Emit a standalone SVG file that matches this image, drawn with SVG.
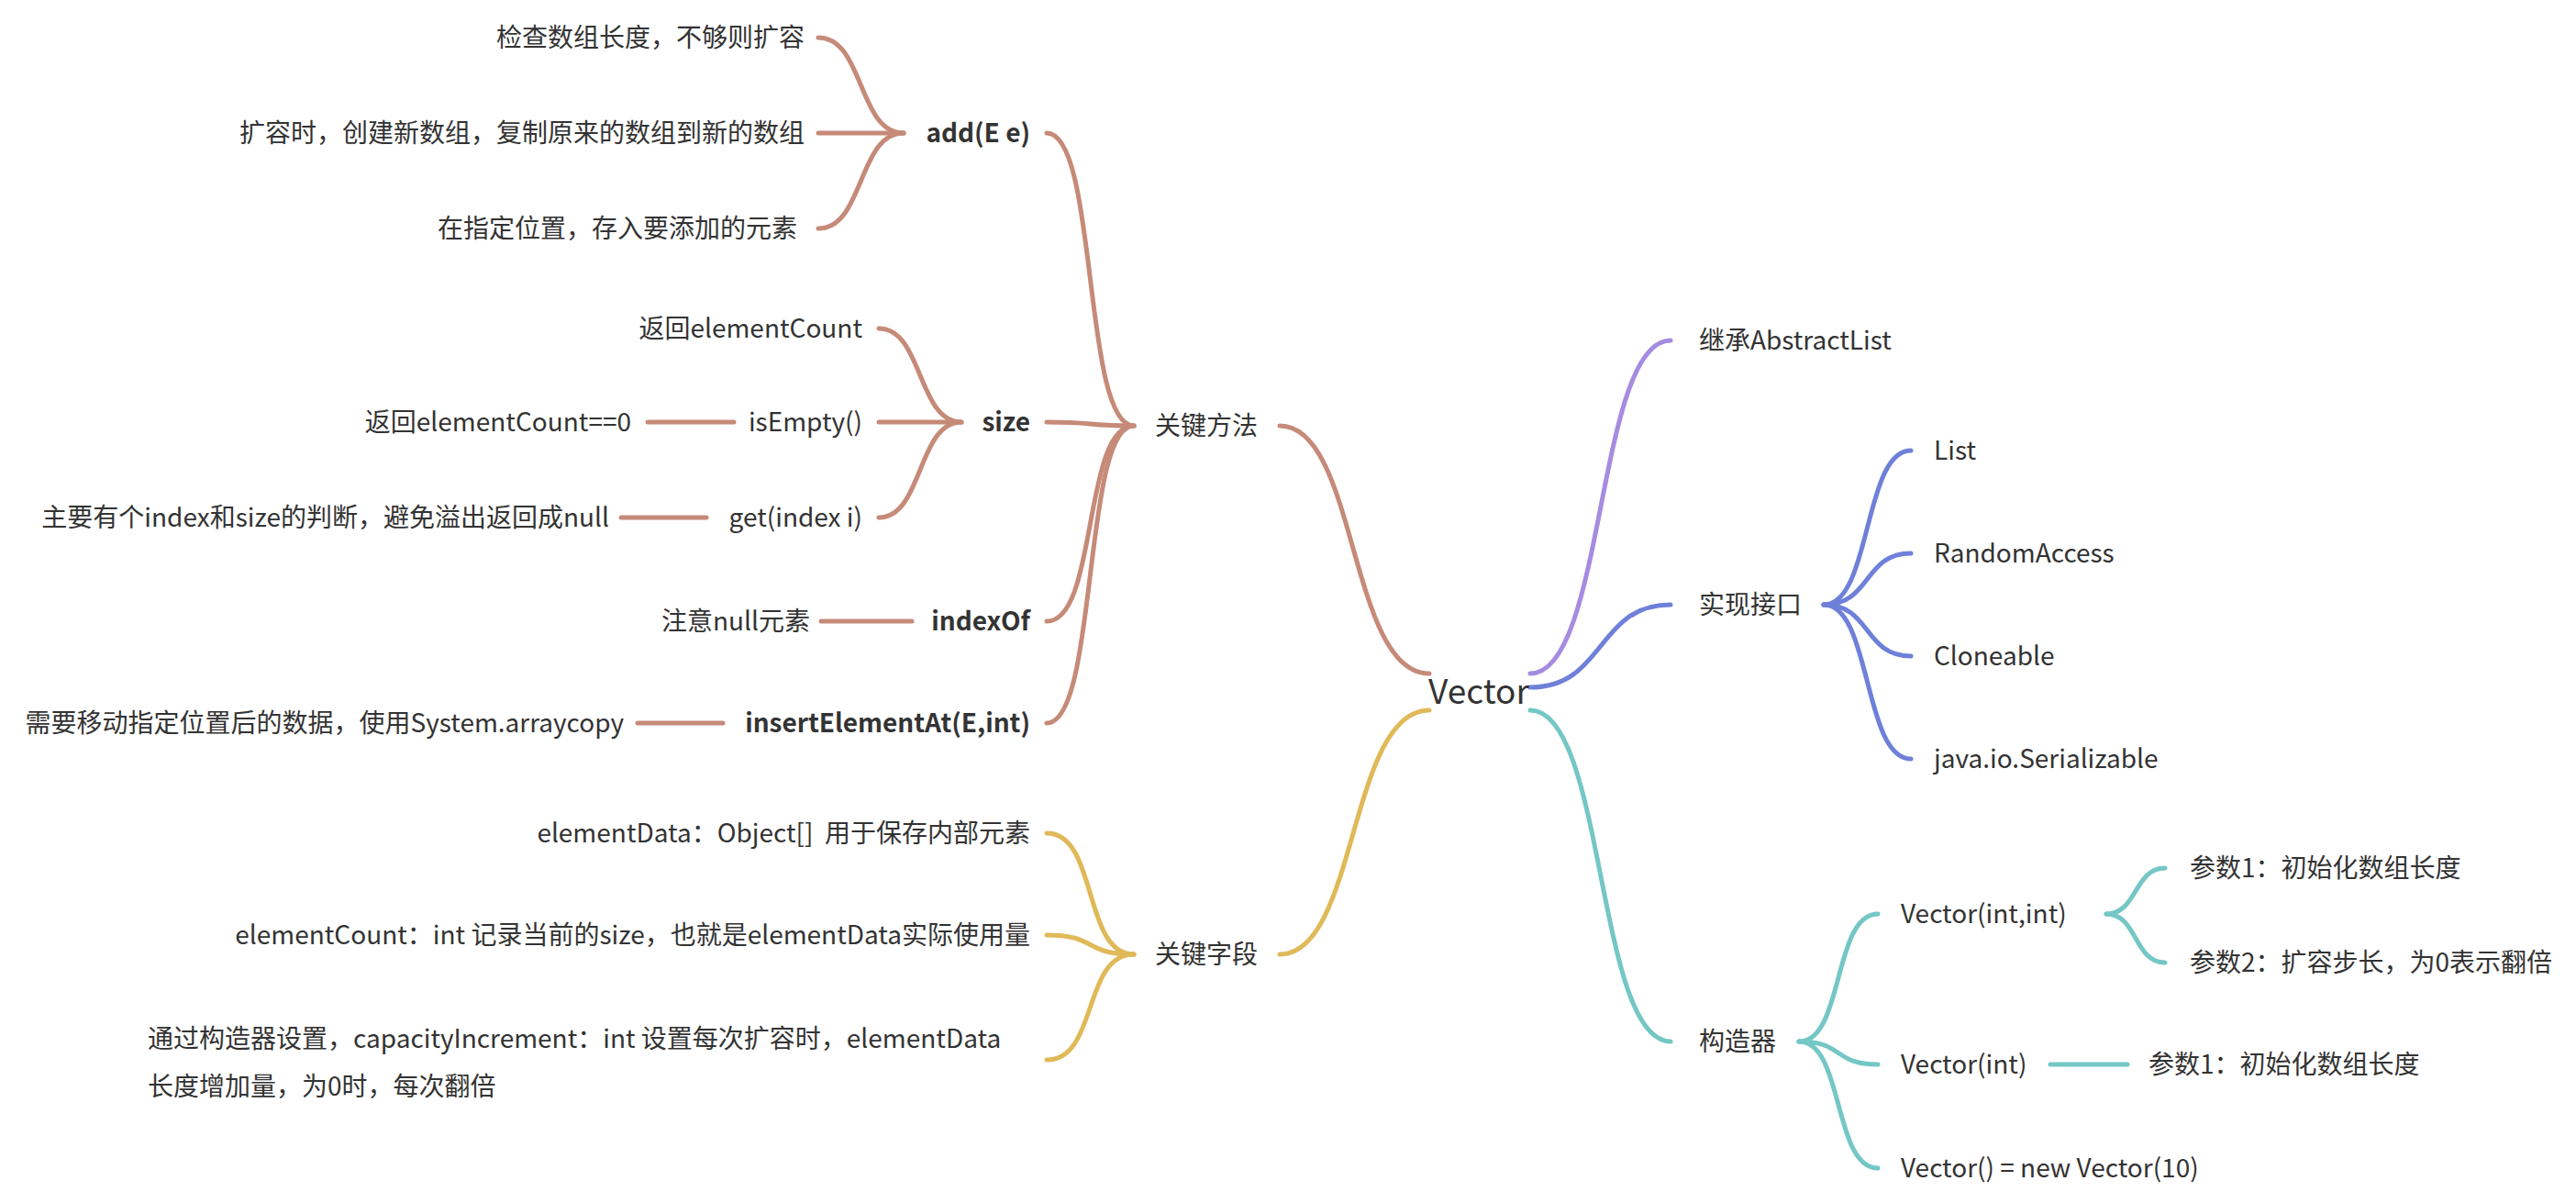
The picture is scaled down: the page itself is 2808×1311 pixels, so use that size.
<svg xmlns="http://www.w3.org/2000/svg" width="2808" height="1311" viewBox="0 0 2808 1311">
<style>
text{font-family:"Noto Sans CJK SC","Microsoft YaHei",sans-serif;font-size:28px;fill:#333}
.r{text-anchor:end}.b{font-weight:bold}
path{fill:none;stroke-width:5;stroke-linecap:round}
.br{stroke:#c68a79}.ye{stroke:#e0b958}.pu{stroke:#a58ce0}.bl{stroke:#6f80d9}.te{stroke:#74c7c5}
</style>
<rect width="2808" height="1311" fill="#fff"/>
<g id="connectors">
<path class="br" d="M1558 734C1470 734 1480 464 1395 464"/>
<path class="ye" d="M1558 774C1470 774 1480 1040 1395 1040"/>
<path class="pu" d="M1668 734C1750 734 1740 371 1821 371"/>
<path class="bl" d="M1668 749C1750 749 1740 659 1821 659"/>
<path class="te" d="M1668 774C1750 774 1740 1135 1821 1135"/>
<path class="br" d="M1236 464C1180 464 1197 145 1141 145"/>
<path class="br" d="M1236 464C1180 464 1197 460 1141 460"/>
<path class="br" d="M1236 464C1180 464 1197 677 1141 677"/>
<path class="br" d="M1236 464C1180 464 1197 788 1141 788"/>
<path class="br" d="M985 145C935 145 942 41 892 41"/>
<path class="br" d="M985 145C935 145 942 145 892 145"/>
<path class="br" d="M985 145C935 145 942 249 892 249"/>
<path class="br" d="M1048 460C1000 460 1006 358 958 358"/>
<path class="br" d="M1048 460C1000 460 1006 460 958 460"/>
<path class="br" d="M1048 460C1000 460 1006 564 958 564"/>
<path class="br" d="M800 460H706"/>
<path class="br" d="M770 564H677"/>
<path class="br" d="M994 677H895"/>
<path class="br" d="M788 788H695"/>
<path class="ye" d="M1236 1040C1180 1040 1197 908 1141 908"/>
<path class="ye" d="M1236 1040C1180 1040 1197 1019 1141 1019"/>
<path class="ye" d="M1236 1040C1180 1040 1197 1155 1141 1155"/>
<path class="bl" d="M1988 659C2040 659 2031 491 2083 491"/>
<path class="bl" d="M1988 659C2040 659 2031 603 2083 603"/>
<path class="bl" d="M1988 659C2040 659 2031 715 2083 715"/>
<path class="bl" d="M1988 659C2040 659 2031 827 2083 827"/>
<path class="te" d="M1961 1135C2010 1135 1998 996 2047 996"/>
<path class="te" d="M1961 1135C2010 1135 1998 1160 2047 1160"/>
<path class="te" d="M1961 1135C2010 1135 1998 1273 2047 1273"/>
<path class="te" d="M2296 996C2330 996 2326 946 2360 946"/>
<path class="te" d="M2296 996C2330 996 2326 1049 2360 1049"/>
<path class="te" d="M2235 1160H2319"/>
</g>
<g id="root"><text x="1612" y="767" style="font-size:37px;text-anchor:middle">Vector</text></g>
<g id="methods"><text x="1259" y="474">关键方法</text></g>
<g id="fields"><text x="1259" y="1050">关键字段</text></g>
<g id="extends"><text x="1852" y="381">继承AbstractList</text></g>
<g id="interfaces"><text x="1852" y="669">实现接口</text></g>
<g id="ctor"><text x="1852" y="1145">构造器</text></g>
<g id="add"><text class="r b" x="1123" y="155">add(E e)</text></g>
<g id="size"><text class="r b" x="1123" y="470">size</text></g>
<g id="indexOf"><text class="r b" x="1123" y="687">indexOf</text></g>
<g id="insert"><text class="r b" x="1123" y="798">insertElementAt(E,int)</text></g>
<g id="add1"><text class="r" x="877" y="51">检查数组长度，不够则扩容</text></g>
<g id="add2"><text class="r" x="877" y="155">扩容时，创建新数组，复制原来的数组到新的数组</text></g>
<g id="add3"><text class="r" x="869" y="259">在指定位置，存入要添加的元素</text></g>
<g id="size1"><text class="r" x="940" y="368">返回elementCount</text></g>
<g id="isEmpty"><text class="r" x="940" y="470">isEmpty()</text></g>
<g id="get"><text class="r" x="940" y="574">get(index i)</text></g>
<g id="isEmpty1"><text class="r" x="688" y="470">返回elementCount==0</text></g>
<g id="get1"><text class="r" x="664" y="574">主要有个index和size的判断，避免溢出返回成null</text></g>
<g id="indexOf1"><text class="r" x="883" y="687">注意null元素</text></g>
<g id="insert1"><text class="r" x="680" y="798">需要移动指定位置后的数据，使用System.arraycopy</text></g>
<g id="f1"><text class="r" x="1123" y="918" xml:space="preserve">elementData：Object[]  用于保存内部元素</text></g>
<g id="f2"><text class="r" x="1123" y="1029">elementCount：int 记录当前的size，也就是elementData实际使用量</text></g>
<g id="f3"><text x="161" y="1142">通过构造器设置，capacityIncrement：int 设置每次扩容时，elementData</text><text x="161" y="1194">长度增加量，为0时，每次翻倍</text></g>
<g id="i1"><text x="2108" y="501">List</text></g>
<g id="i2"><text x="2108" y="613">RandomAccess</text></g>
<g id="i3"><text x="2108" y="725">Cloneable</text></g>
<g id="i4"><text x="2108" y="837">java.io.Serializable</text></g>
<g id="c1"><text x="2072" y="1006">Vector(int,int)</text></g>
<g id="c2"><text x="2072" y="1170">Vector(int)</text></g>
<g id="c3"><text x="2072" y="1283">Vector() = new Vector(10)</text></g>
<g id="c1a"><text x="2387" y="956">参数1：初始化数组长度</text></g>
<g id="c1b"><text x="2387" y="1059">参数2：扩容步长，为0表示翻倍</text></g>
<g id="c2a"><text x="2342" y="1170">参数1：初始化数组长度</text></g>
</svg>
